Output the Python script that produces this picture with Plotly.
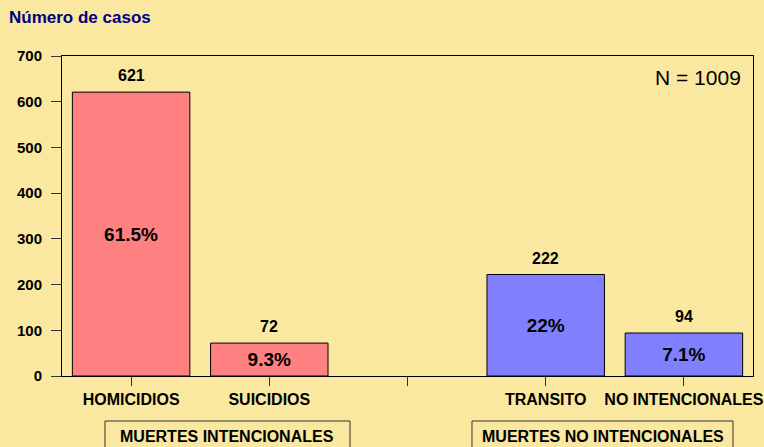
import plotly.graph_objects as go

categorias = ["HOMICIDIOS", "SUICIDIOS", "", "TRANSITO", "NO INTENCIONALES"]
casos = [621, 72, None, 222, 94]
porcentajes = ["61.5%", "9.3%", "", "22%", "7.1%"]
colores = ["#FF8080", "#FF8080", "#FF8080", "#8080FF", "#8080FF"]
y_ticks = [0, 100, 200, 300, 400, 500, 600, 700]
grupos = ["MUERTES INTENCIONALES", "MUERTES NO INTENCIONALES"]
total = 1009

bg = "#FAE8A0"
fuente = "Liberation Sans, Arial, sans-serif"

x_pos = list(range(len(categorias)))
idx = [i for i, v in enumerate(casos) if v is not None]

fig = go.Figure(go.Bar(
    x=[x_pos[i] for i in idx],
    y=[casos[i] for i in idx],
    width=0.85,
    marker=dict(color=[colores[i] for i in idx], line=dict(color="black", width=1)),
    text=[porcentajes[i] for i in idx],
    textposition="inside",
    insidetextanchor="middle",
    textangle=0,
    textfont=dict(family=fuente, size=19, color="black", weight="bold"),
    hoverinfo="skip",
))

# valores sobre las barras
for i in idx:
    fig.add_annotation(x=x_pos[i], y=casos[i], text=str(casos[i]), showarrow=False,
                       yanchor="bottom", yshift=6,
                       font=dict(family=fuente, size=16, color="black", weight="bold"))

fig.add_annotation(xref="paper", yref="paper", x=0.986, y=0.934, text=f"N = {total}",
                   showarrow=False, xanchor="right", yanchor="middle",
                   font=dict(family=fuente, size=21, color="black"))

fig.add_annotation(xref="paper", yref="paper", x=-0.08, y=1.119, text="Número de casos",
                   showarrow=False, xanchor="left", yanchor="middle",
                   font=dict(family=fuente, size=17, color="#000080", weight="bold"))

# cajas de grupos
for txt, x0, x1 in zip(grupos, [0.0622, 0.5933], [0.4168, 0.9711]):
    fig.add_shape(type="rect", xref="paper", yref="paper", x0=x0, x1=x1,
                  y0=-0.27, y1=-0.1406, line=dict(color="#333333", width=1),
                  fillcolor=bg)
    fig.add_annotation(xref="paper", yref="paper", x=(x0 + x1) / 2, y=-0.19,
                       text=txt, showarrow=False, xanchor="center", yanchor="middle",
                       font=dict(family=fuente, size=16, color="black", weight="bold"))

fig.update_layout(
    width=764, height=447,
    margin=dict(l=62, r=11, t=56, b=71),
    paper_bgcolor=bg, plot_bgcolor=bg,
    showlegend=False,
    font=dict(family=fuente),
)
fig.update_xaxes(range=[-0.5, len(categorias) - 0.5], tickvals=x_pos, ticktext=categorias,
                 ticks="outside", ticklen=9, tickcolor="#333333", showgrid=False,
                 showline=True, linecolor="black", linewidth=1, mirror=True,
                 tickfont=dict(family=fuente, size=16, color="black", weight="bold"),
                 zeroline=False, automargin=False)
fig.update_yaxes(range=[0, 700], tickvals=y_ticks, ticks="outside", ticklen=10,
                 tickcolor="#333333", showgrid=False, showline=True, linecolor="black",
                 linewidth=1, mirror=True, zeroline=False, automargin=False,
                 ticklabelstandoff=6,
                 tickfont=dict(family=fuente, size=15, color="black", weight="bold"))

fig.write_html("out.html", config={"displayModeBar": False},
               post_script="document.body.style.margin='0';")
